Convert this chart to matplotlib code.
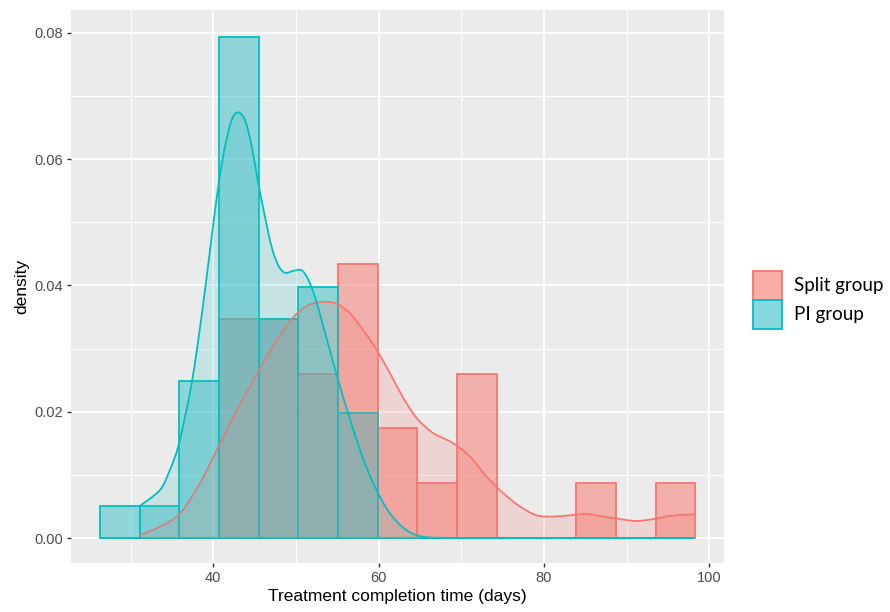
import numpy as np
import matplotlib
matplotlib.use("Agg")
import matplotlib.pyplot as plt
from matplotlib.colors import to_rgba
from matplotlib.patches import Patch, PathPatch
from matplotlib.path import Path
from matplotlib.ticker import FixedLocator

# ---------------- data ----------------
groups = ["Split group", "PI group"]
edge_colors = ["#F8766D", "#00BFC4"]
fill_colors = ["#F8766D", "#35BFC5"]

bin_edges = [26.3, 31.1, 35.9, 40.7, 45.5, 50.3, 55.1, 59.9, 64.7,
             69.5, 74.3, 79.1, 83.9, 88.7, 93.5, 98.3]

split_hist = [0, 0, 0, 0.0347, 0.0347, 0.0260, 0.0434, 0.0174, 0.0087,
              0.0260, 0, 0, 0.0087, 0, 0.0087]
pi_hist = [0.0050, 0.0050, 0.0248, 0.0794, 0.0347, 0.0397, 0.0198, 0, 0,
           0, 0, 0, 0, 0, 0]

split_dens_x = [31.13, 33.55, 35.97, 38.39, 40.41, 42.42, 44.44, 46.46, 48.47,
                50.09, 51.70, 53.51, 54.93, 56.54, 58.14, 59.77, 61.37, 62.98,
                64.60, 66.21, 67.02, 69.03, 71.05, 73.07, 75.08, 77.10, 79.12,
                81.13, 83.15, 85.17, 87.18, 89.20, 91.22, 93.22, 95.25, 97.27,
                98.27]
split_dens_y = [0.0005, 0.0018, 0.0039, 0.0087, 0.0139, 0.0192, 0.0240, 0.0287,
                0.0329, 0.0355, 0.0370, 0.0374, 0.0371, 0.0356, 0.0329, 0.0298,
                0.0261, 0.0222, 0.0190, 0.0170, 0.0163, 0.0150, 0.0129, 0.0097,
                0.0071, 0.0050, 0.0036, 0.0034, 0.0036, 0.0038, 0.0034, 0.0030,
                0.0027, 0.0030, 0.0035, 0.0037, 0.0037]

pi_dens_x = [31.13, 33.55, 34.76, 35.77, 36.58, 37.39, 38.19, 39.00, 39.81,
             40.60, 41.42, 42.23, 42.95, 43.83, 44.65, 45.44, 46.25, 47.06,
             47.86, 48.67, 49.68, 50.69, 51.49, 52.30, 53.31, 54.32, 55.33,
             56.33, 57.35, 58.35, 59.35, 60.37, 61.37, 62.58, 63.79, 65.00,
             66.21, 70.0, 80.0, 90.0, 98.27]
pi_dens_y = [0.0051, 0.0076, 0.0108, 0.0145, 0.0192, 0.0245, 0.0314, 0.0393,
             0.0477, 0.0556, 0.0620, 0.0662, 0.0674, 0.0662, 0.0620, 0.0562,
             0.0509, 0.0461, 0.0432, 0.0420, 0.0423, 0.0424, 0.0409, 0.0382,
             0.0335, 0.0287, 0.0240, 0.0197, 0.0155, 0.0118, 0.0087, 0.0060,
             0.0039, 0.0021, 0.0009, 0.0003, 0.0001, 0.0, 0.0, 0.0, 0.0]

x_ticks = [40, 60, 80, 100]
y_ticks = [0.00, 0.02, 0.04, 0.06, 0.08]
y_tick_labels = ["0.00", "0.02", "0.04", "0.06", "0.08"]


def smooth_path(xs, ys, close_to_base=False):
    """Catmull-Rom style Bezier path through the read points (rendering only)."""
    p = np.column_stack([xs, ys]).astype(float)
    n = len(p)
    verts = [p[0]]
    codes = [Path.MOVETO]
    for i in range(n - 1):
        p0 = p[i - 1] if i > 0 else p[i]
        p1 = p[i]
        p2 = p[i + 1]
        p3 = p[i + 2] if i + 2 < n else p[i + 1]
        c1 = p1 + (p2 - p0) / 6.0
        c2 = p2 - (p3 - p1) / 6.0
        verts += [c1, c2, p2]
        codes += [Path.CURVE4] * 3
    if close_to_base:
        verts += [(p[-1, 0], 0.0), (p[0, 0], 0.0), p[0]]
        codes += [Path.LINETO, Path.LINETO, Path.CLOSEPOLY]
    return Path(verts, codes)


# ---------------- figure ----------------
fig = plt.figure(figsize=(8.9, 6.12), dpi=100)
ax = fig.add_axes([71 / 890, 1 - 563.3 / 612, (724 - 71) / 890, (563.3 - 10) / 612])
ax.set_facecolor("#EBEBEB")
for s in ax.spines.values():
    s.set_visible(False)

edges = np.array(bin_edges)
widths = np.diff(edges)
lw = 1.3

hist_vals = [split_hist, pi_hist]
dens = [(split_dens_x, split_dens_y), (pi_dens_x, pi_dens_y)]

# histograms (Split first, then PI)
for vals, fc, ec in zip(hist_vals, fill_colors, edge_colors):
    ax.bar(edges[:-1], vals, width=widths, align="edge",
           facecolor=to_rgba(fc, 0.5), edgecolor=ec, linewidth=lw, zorder=2)

# density curves
for (dx, dy), fc, ec in zip(dens, fill_colors, edge_colors):
    ax.add_patch(PathPatch(smooth_path(dx, dy, close_to_base=True),
                           facecolor=to_rgba(fc, 0.2), edgecolor="none",
                           linewidth=0, zorder=3))
    ax.add_patch(PathPatch(smooth_path(dx, dy), fill=False, edgecolor=ec,
                           linewidth=lw, zorder=3, joinstyle="round",
                           capstyle="butt"))

ax.set_xlim(22.79, 101.78)
ax.set_ylim(-0.0040, 0.08361)

ax.set_xticks(x_ticks)
ax.set_xticklabels([str(v) for v in x_ticks])
ax.xaxis.set_minor_locator(FixedLocator([30, 50, 70, 90]))
ax.set_yticks(y_ticks)
ax.set_yticklabels(y_tick_labels)
ax.yaxis.set_minor_locator(FixedLocator([0.01, 0.03, 0.05, 0.07]))

ax.set_axisbelow(True)
ax.grid(which="major", color="white", linewidth=1.4)
ax.grid(which="minor", color="white", linewidth=0.7)
ax.tick_params(which="major", length=3, width=1.0, color="#333333",
               labelsize=10.5, labelcolor="#4D4D4D", pad=2.5)
ax.tick_params(which="minor", length=0)
for lab in ax.get_xticklabels() + ax.get_yticklabels():
    lab.set_family("Liberation Sans")

ax.set_xlabel("Treatment completion time (days)", fontsize=12.5,
              family="Liberation Sans", color="black", labelpad=3)
ax.set_ylabel("density", fontsize=12.5, family="Liberation Sans",
              color="black", labelpad=4)

handles = [Patch(facecolor=to_rgba(fc, 0.6), edgecolor=ec, linewidth=lw)
           for fc, ec in zip(fill_colors, edge_colors)]
fig.legend(handles, groups, loc="upper left",
           bbox_to_anchor=(753 / 890, 1 - 270.5 / 612),
           frameon=False, borderpad=0, borderaxespad=0, labelspacing=0,
           handlelength=1.55, handleheight=2.02, handletextpad=0.62,
           prop={"family": "Lato", "size": 13.5})

fig.savefig("out.png", dpi=100)
